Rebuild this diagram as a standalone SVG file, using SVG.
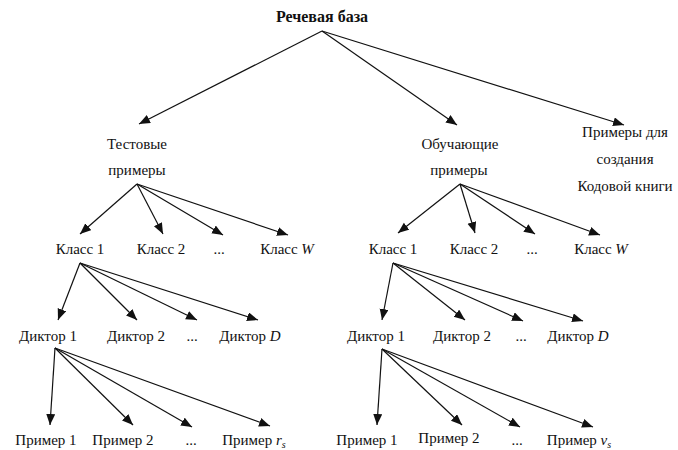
<svg xmlns="http://www.w3.org/2000/svg" width="678" height="450" viewBox="0 0 678 450">
<style>
text{font-family:"Liberation Serif","DejaVu Serif",serif;font-size:15px;fill:#111;text-anchor:middle}
.b{font-weight:bold;font-size:16px}
.i{font-style:italic}
.sub{font-size:10px;font-style:italic}
#edges line{stroke:#111;stroke-width:1.2;marker-end:url(#ah)}
</style>
<defs>
<marker id="ah" markerUnits="userSpaceOnUse" markerWidth="12" markerHeight="10" refX="11" refY="4.5" orient="auto">
<path d="M0,0 L11,4.5 L0,9 z" fill="#111"/>
</marker>
</defs>
<g id="edges">
<line x1="322" y1="31" x2="139" y2="124"/>
<line x1="322" y1="31" x2="457" y2="125"/>
<line x1="322" y1="31" x2="624" y2="125"/>
<line x1="137" y1="184" x2="80" y2="234"/>
<line x1="137" y1="184" x2="163" y2="234"/>
<line x1="137" y1="184" x2="223" y2="235"/>
<line x1="137" y1="184" x2="288" y2="235"/>
<line x1="460" y1="184" x2="398" y2="233"/>
<line x1="460" y1="184" x2="475" y2="233"/>
<line x1="460" y1="184" x2="535" y2="234"/>
<line x1="460" y1="184" x2="600" y2="235"/>
<line x1="80" y1="263" x2="58" y2="320"/>
<line x1="80" y1="263" x2="137" y2="320"/>
<line x1="80" y1="263" x2="197" y2="320"/>
<line x1="80" y1="263" x2="258" y2="320"/>
<line x1="393" y1="263" x2="382" y2="320"/>
<line x1="393" y1="263" x2="465" y2="320"/>
<line x1="393" y1="263" x2="523" y2="321"/>
<line x1="393" y1="263" x2="583" y2="321"/>
<line x1="55" y1="348" x2="50" y2="425"/>
<line x1="55" y1="348" x2="133" y2="425"/>
<line x1="55" y1="348" x2="192" y2="427"/>
<line x1="55" y1="348" x2="270" y2="426"/>
<line x1="382" y1="349" x2="377" y2="425"/>
<line x1="382" y1="349" x2="462" y2="425"/>
<line x1="382" y1="349" x2="520" y2="427"/>
<line x1="382" y1="349" x2="593" y2="427"/>
</g>
<g id="root"><text class="b" x="322" y="22">Речевая база</text></g>
<g id="test"><text x="137" y="149">Тестовые</text><text x="137" y="175">примеры</text></g>
<g id="train"><text x="460" y="149">Обучающие</text><text x="459" y="175">примеры</text></g>
<g id="codebook"><text x="625" y="137">Примеры для</text><text x="625" y="164">создания</text><text x="625" y="191">Кодовой книги</text></g>
<g id="t-class1"><text x="80" y="254">Класс 1</text></g>
<g id="t-class2"><text x="161" y="254">Класс 2</text></g>
<g id="t-classdots"><text x="219" y="254">...</text></g>
<g id="t-classW"><text x="287" y="254">Класс <tspan class="i">W</tspan></text></g>
<g id="r-class1"><text x="393" y="254">Класс 1</text></g>
<g id="r-class2"><text x="474" y="254">Класс 2</text></g>
<g id="r-classdots"><text x="532" y="254">...</text></g>
<g id="r-classW"><text x="601" y="254">Класс <tspan class="i">W</tspan></text></g>
<g id="t-spk1"><text x="48" y="341">Диктор 1</text></g>
<g id="t-spk2"><text x="136" y="341">Диктор 2</text></g>
<g id="t-spkdots"><text x="192" y="341">...</text></g>
<g id="t-spkD"><text x="250" y="341">Диктор <tspan class="i">D</tspan></text></g>
<g id="r-spk1"><text x="376" y="341">Диктор 1</text></g>
<g id="r-spk2"><text x="462" y="341">Диктор 2</text></g>
<g id="r-spkdots"><text x="521" y="341">...</text></g>
<g id="r-spkD"><text x="578" y="341">Диктор <tspan class="i">D</tspan></text></g>
<g id="t-ex1"><text x="46" y="445">Пример 1</text></g>
<g id="t-ex2"><text x="123" y="445">Пример 2</text></g>
<g id="t-exdots"><text x="191" y="445">...</text></g>
<g id="t-exr"><text x="254" y="445">Пример <tspan class="i">r</tspan><tspan class="sub" dy="3">s</tspan></text></g>
<g id="r-ex1"><text x="367" y="445">Пример 1</text></g>
<g id="r-ex2"><text x="449" y="443">Пример 2</text></g>
<g id="r-exdots"><text x="517" y="445">...</text></g>
<g id="r-exv"><text x="579" y="445">Пример <tspan class="i">v</tspan><tspan class="sub" dy="3">s</tspan></text></g>
</svg>
